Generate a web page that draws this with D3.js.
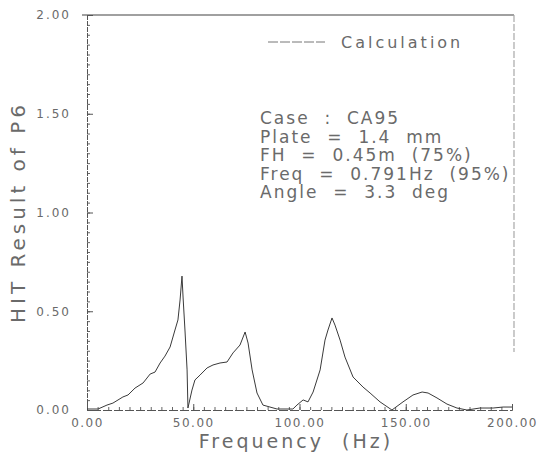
<!DOCTYPE html>
<html>
<head>
<meta charset="utf-8">
<script src="https://cdn.jsdelivr.net/npm/d3@7/dist/d3.min.js"></script>
<style>
  body { margin: 0; background: #fff; }
  text { font-family: "DejaVu Sans", sans-serif; fill: #6a6a6a; }
</style>
</head>
<body>
<svg id="chart" width="537" height="460"></svg>
<script>
// calculated HIT response
const freq = [0, 5.2, 9.4, 12.2, 16.9, 19.3, 22.6, 26.4, 29.7, 32.0, 34.4, 36.7, 39.1, 41.4, 42.8, 43.8, 44.7,
  45.2, 46.1, 47.1, 47.5, 49.4, 50.8, 53.2, 56.5, 59.3, 62.6, 65.9, 68.7, 72.0, 74.4,
  75.8, 77.7, 80.0, 82.8, 86.1, 89.4, 96.9, 98.8, 101.7, 104.0, 106.4, 109.7, 112.0, 113.4, 115.3,
  116.7, 119.1, 121.4, 125.2, 129.9, 133.2, 137.9, 143.5, 148.7, 153.4, 157.7, 160.5, 164.7, 169.4,
  174.1, 178.8, 184.9, 191.1, 195.8, 200];
const hit = [0.005, 0.005, 0.025, 0.035, 0.066, 0.076, 0.111, 0.137, 0.182, 0.192, 0.238, 0.273, 0.319, 0.405, 0.456, 0.557, 0.678,
  0.572, 0.405, 0.203, 0.01, 0.101, 0.152, 0.177, 0.213, 0.228, 0.238, 0.243, 0.289, 0.329, 0.395,
  0.339, 0.203, 0.086, 0.025, 0.015, 0.005, 0.005, 0.025, 0.051, 0.041, 0.091, 0.203, 0.354, 0.405, 0.466,
  0.430, 0.354, 0.268, 0.167, 0.116, 0.086, 0.041, 0.0, 0.041, 0.076, 0.091, 0.086, 0.061, 0.030,
  0.010, 0.0, 0.010, 0.010, 0.015, 0.015];

const xTicks = [0, 50, 100, 150, 200];
const yTicks = [0, 0.5, 1.0, 1.5, 2.0];
const legendLabel = "Calculation";
const notes = [
  "Case  :  CA95",
  "Plate  =  1.4  mm",
  "FH  =  0.45m  (75%)",
  "Freq  =  0.791Hz  (95%)",
  "Angle  =  3.3  deg"
];

const plotLeft = 87, plotRight = 512, plotTop = 15, plotBottom = 410;

const svg = d3.select('#chart');

const x = d3.scaleLinear().domain([0, 200]).range([plotLeft, plotRight]);
const y = d3.scaleLinear().domain([0, 2]).range([plotBottom, plotTop]);

// frame (top and right)
svg.append('line')
  .attr('x1', 82).attr('x2', 514).attr('y1', plotTop).attr('y2', plotTop)
  .attr('stroke', '#a0a0a0').attr('stroke-width', 2);
svg.append('line')
  .attr('x1', 514).attr('x2', 514).attr('y1', plotTop).attr('y2', 352)
  .attr('stroke', '#a8a8a8').attr('stroke-width', 1.2).attr('stroke-dasharray', '7,2');

// minor ticks
let xMinor = d3.range(0, 201, 5);
let yMinor = d3.range(0, 2.001, 0.05);

svg.append('g')
  .attr('transform', 'translate(0,' + plotBottom + ')')
  .call(d3.axisBottom(x).tickValues(xMinor).tickSize(-3).tickFormat(''))
  .call(g => g.select('.domain').remove())
  .selectAll('line').attr('stroke', '#666');

svg.append('g')
  .attr('transform', 'translate(' + plotLeft + ',0)')
  .call(d3.axisLeft(y).tickValues(yMinor).tickSize(-3).tickFormat(''))
  .call(g => g.select('.domain').remove())
  .selectAll('line').attr('stroke', '#666');

// major ticks and labels
let xAxis = svg.append('g')
  .attr('transform', 'translate(0,' + plotBottom + ')')
  .call(d3.axisBottom(x).tickValues(xTicks).tickSize(-6).tickPadding(8).tickFormat(d3.format('.2f')));
xAxis.select('.domain').attr('stroke', '#555').attr('stroke-dasharray', '9,2');
xAxis.selectAll('line').attr('stroke', '#555');
xAxis.selectAll('text')
  .attr('font-size', 12).style('letter-spacing', '1.5px').attr('fill', '#6a6a6a');

let yAxis = svg.append('g')
  .attr('transform', 'translate(' + plotLeft + ',0)')
  .call(d3.axisLeft(y).tickValues(yTicks).tickSize(-6).tickPadding(16).tickFormat(d3.format('.2f')));
yAxis.select('.domain').attr('stroke', '#555').attr('stroke-dasharray', '5,1');
yAxis.selectAll('line').attr('stroke', '#555');
yAxis.selectAll('text')
  .attr('font-size', 12).style('letter-spacing', '2px').attr('fill', '#6a6a6a');

// curve
let line = d3.line()
  .x((d, i) => x(freq[i]))
  .y(d => y(d));

svg.append('path')
  .datum(hit)
  .attr('d', line)
  .attr('fill', 'none')
  .attr('stroke', '#3a3a3a')
  .attr('stroke-width', 1);

// legend
svg.append('line')
  .attr('x1', 268).attr('x2', 325).attr('y1', 42).attr('y2', 42)
  .attr('stroke', '#777').attr('stroke-width', 1).attr('stroke-dasharray', '10,2');
svg.append('text')
  .attr('x', 341).attr('y', 48)
  .attr('font-size', 16)
  .style('letter-spacing', '3px')
  .text(legendLabel);

// annotation block
svg.append('g').selectAll('text')
  .data(notes)
  .enter()
  .append('text')
  .attr('x', 260)
  .attr('y', (d, i) => 124 + i * 18.5)
  .attr('font-size', 17)
  .style('white-space', 'pre')
  .style('letter-spacing', '2px')
  .text(d => d);

// axis titles
svg.append('text')
  .attr('x', 296).attr('y', 448)
  .attr('text-anchor', 'middle')
  .attr('font-size', 19)
  .style('white-space', 'pre')
  .style('letter-spacing', '3px')
  .text('Frequency  (Hz)');

svg.append('text')
  .attr('transform', 'translate(25,212) rotate(-90)')
  .attr('text-anchor', 'middle')
  .attr('font-size', 20)
  .style('letter-spacing', '4px')
  .text('HIT Result of P6');
</script>
</body>
</html>
